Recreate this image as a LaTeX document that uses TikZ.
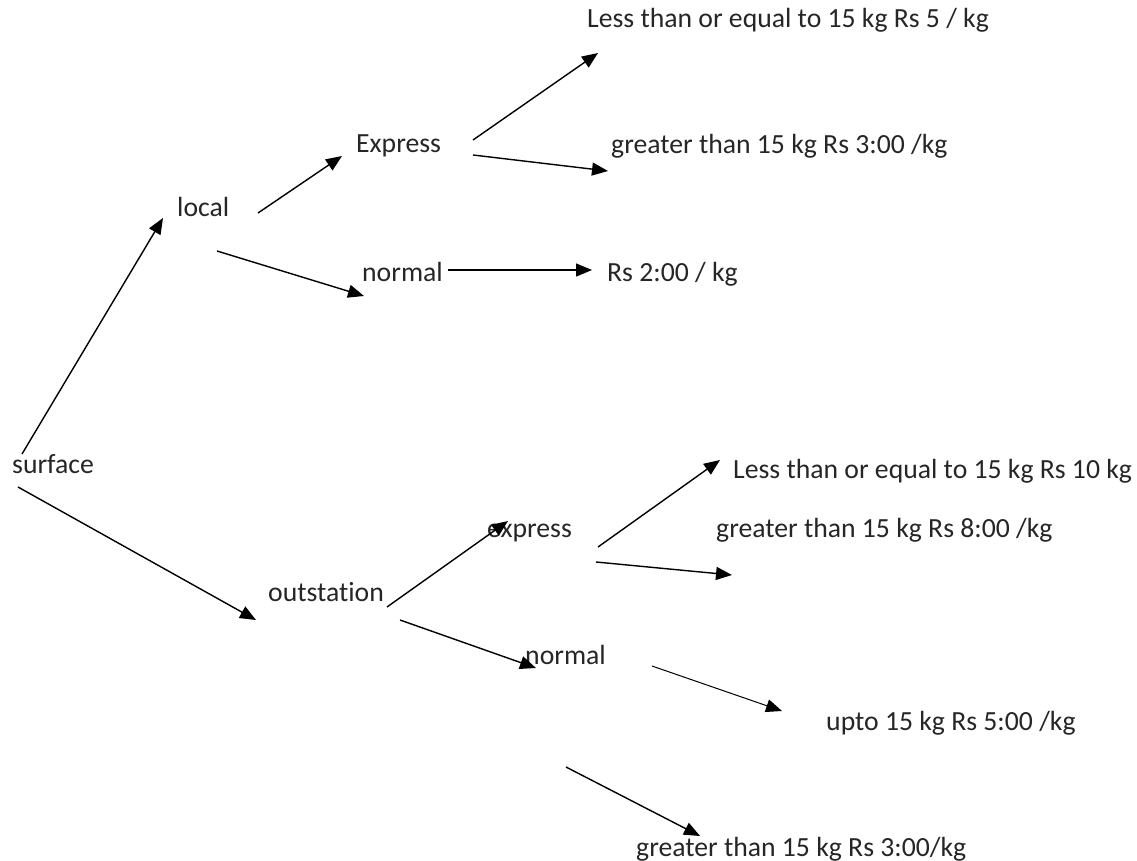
\documentclass[tikz,border=0pt]{standalone}
\usepackage{fontspec}
\setmainfont{Carlito}[Ligatures=NoCommon]
\usetikzlibrary{arrows.meta}
\begin{document}
\begin{tikzpicture}[x=1pt,y=-1pt,
  lbl/.style={anchor=base west, inner sep=0pt, text=black!85, font=\fontsize{27.7}{32}\selectfont},
  arr/.style={line width=1.4pt, -{Triangle[length=16pt,width=13pt]}}]
\fill[white] (0,0) rectangle (1137,861);
\useasboundingbox (0,0) rectangle (1137,861);
% labels
\node[lbl] (less5) at (587,28) {Less than or equal to 15 kg Rs 5 / kg};
\node[lbl] (expr1) at (356,153) {Express};
\node[lbl] (gt3) at (611,154) {greater than 15 kg Rs 3:00 /kg};
\node[lbl] (local) at (177,216) {local};
\node[lbl] (norm1) at (362,281) {normal};
\node[lbl] (rs2) at (607,281) {Rs 2:00 / kg};
\node[lbl] (surface) at (12,473) {surface};
\node[lbl] (less10) at (733,478) {Less than or equal to 15 kg Rs 10 kg};
\node[lbl] (expr2) at (487,537) {express};
\node[lbl] (gt8) at (716,537) {greater than 15 kg Rs 8:00 /kg};
\node[lbl] (outst) at (268,601) {outstation};
\node[lbl] (norm2) at (525,664) {normal};
\node[lbl] (upto) at (826,730) {upto 15 kg Rs 5:00 /kg};
\node[lbl] (gt3b) at (636,856) {greater than 15 kg Rs 3:00/kg};
% connector ends
\coordinate (s1) at (22,454);   \coordinate (e1) at (163,218);
\coordinate (s2) at (18,487);   \coordinate (e2) at (256,620);
\coordinate (s3) at (258,213);  \coordinate (e3) at (342,156);
\coordinate (s4) at (217,251);  \coordinate (e4) at (364,296);
\coordinate (s5) at (473,140);  \coordinate (e5) at (598,53);
\coordinate (s6) at (473,155);  \coordinate (e6) at (608,171);
\coordinate (s7) at (448,270);  \coordinate (e7) at (592,270);
\coordinate (s8) at (387,607);  \coordinate (e8) at (508,521);
\coordinate (s9) at (598,547);  \coordinate (e9) at (720,460);
\coordinate (s10) at (596,562); \coordinate (e10) at (732,575);
\coordinate (s11) at (400,620); \coordinate (e11) at (536,668);
\coordinate (s12) at (652,666); \coordinate (e12) at (782,711);
\coordinate (s13) at (566,767); \coordinate (e13) at (700,836);
% connectors
\draw[arr] (s1) -- (e1);
\draw[arr] (s2) -- (e2);
\draw[arr] (s3) -- (e3);
\draw[arr] (s4) -- (e4);
\draw[arr] (s5) -- (e5);
\draw[arr] (s6) -- (e6);
\draw[arr] (s7) -- (e7);
\draw[arr] (s8) -- (e8);
\draw[arr] (s9) -- (e9);
\draw[arr] (s10) -- (e10);
\draw[arr] (s11) -- (e11);
\draw[arr, line width=1pt] (s12) -- (e12);
\draw[arr] (s13) -- (e13);
\end{tikzpicture}
\end{document}
